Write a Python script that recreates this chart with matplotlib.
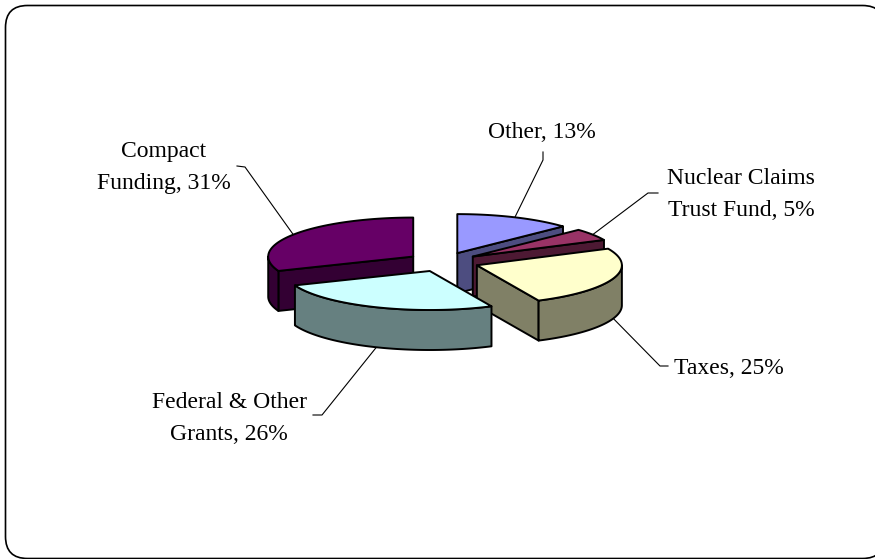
import numpy as np
import matplotlib.pyplot as plt
from matplotlib.patches import Polygon, FancyBboxPatch

# revenue sources, clockwise from 12 o'clock
names = ['Other', 'Nuclear Claims\nTrust Fund', 'Taxes', 'Federal & Other\nGrants', 'Compact\nFunding']
shares = [13, 5, 25, 26, 31]

top_colors = ['#9999FF', '#993366', '#FFFFCC', '#CCFFFF', '#660066']
side_colors = ['#4D4D80', '#4D1933', '#808066', '#668080', '#330033']

# layout in pixels (y grows downward)
W, H = 875, 559
CX, CY = 443, 262
RX, RY = 145, 39
DEPTH = 40
EXPLODE = 36

label_xy = [(542, 133), (741, 194), (729, 368), (229, 418), (164, 168)]
knees = [(543, 160), (648, 193), (660, 366), (322, 415), (245, 167)]
ticks = [(543, 152), (658, 193), (668, 366), (313, 415), (237, 166)]

plt.rcParams['font.family'] = ['Liberation Serif', 'DejaVu Serif']

fig = plt.figure(figsize=(W / 100, H / 100), dpi=100)
ax = fig.add_axes([0, 0, 1, 1])
ax.set_xlim(0, W)
ax.set_ylim(H, 0)
ax.axis('off')

frame = FancyBboxPatch((5.5, 5.5), 879, 553, boxstyle='round,pad=0,rounding_size=22',
                       fc='white', ec='black', lw=1.2, zorder=0)
ax.add_patch(frame)


def rim(cx, cy, th, drop=0.0):
    t = np.radians(th)
    return np.column_stack([cx + RX * np.sin(t), cy - RY * np.cos(t) + drop])


total = float(sum(shares))
bounds = np.concatenate([[0], np.cumsum(shares)]) / total * 360

slices = []
for i in range(len(shares)):
    a, b = bounds[i], bounds[i + 1]
    mid = np.radians((a + b) / 2)
    cx = CX + EXPLODE * np.sin(mid)
    cy = CY - EXPLODE * RY / RX * np.cos(mid)
    slices.append((cy, i, a, b, cx))

edge = dict(ec='black', lw=1.4, joinstyle='round')
for rank, (cy, i, a, b, cx) in enumerate(sorted(slices)):
    z = 2 + rank
    c = np.array([cx, cy])
    # radial side faces turned towards the viewer
    for th, vis in ((a, np.sin(np.radians(a)) < -1e-6), (b, np.sin(np.radians(b)) > 1e-6)):
        if vis:
            r = rim(cx, cy, [th])[0]
            quad = [c, r, r + [0, DEPTH], c + [0, DEPTH]]
            ax.add_patch(Polygon(quad, closed=True, fc=side_colors[i], zorder=z, **edge))
    # front part of the outer wall
    lo, hi = max(a, 90), min(b, 270)
    if lo < hi:
        arc = np.linspace(lo, hi, 120)
        wall = np.vstack([rim(cx, cy, arc), rim(cx, cy, arc[::-1], DEPTH)])
        ax.add_patch(Polygon(wall, closed=True, fc=side_colors[i], zorder=z, **edge))
    # top face
    arc = np.linspace(a, b, 200)
    top = np.vstack([c, rim(cx, cy, arc)])
    ax.add_patch(Polygon(top, closed=True, fc=top_colors[i], zorder=z + 0.5, **edge))

# data labels with leader lines
for cy, i, a, b, cx in slices:
    mid = (a + b) / 2
    drop = DEPTH if np.cos(np.radians(mid)) < 0 else 0
    p = rim(cx, cy, [mid], drop)[0]
    kx, ky = knees[i]
    tx, ty = ticks[i]
    ax.plot([p[0], kx, tx], [p[1], ky, ty], color='black', lw=0.8, zorder=1)
    lines = f'{names[i]}, {shares[i]}%'.split('\n')
    lx, ly = label_xy[i]
    step = 32
    y0 = ly - step * (len(lines) - 1) / 2
    for k, s in enumerate(lines):
        ax.text(lx, y0 + k * step, s, ha='center', va='center', fontsize=17, zorder=10)

fig.savefig('out.png', dpi=100)
